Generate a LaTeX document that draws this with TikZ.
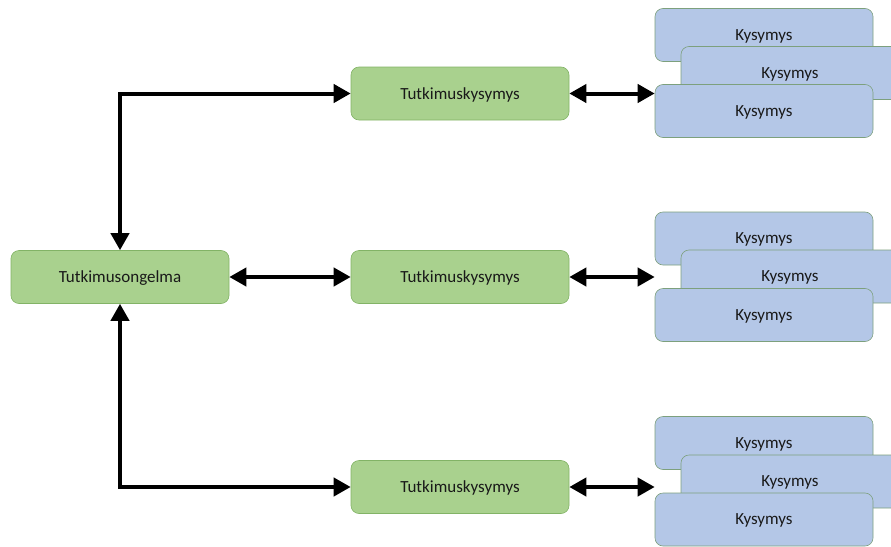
\documentclass[tikz,border=0pt]{standalone}
\usepackage{fontspec}
\setmainfont{Carlito}
\usetikzlibrary{arrows.meta}
\definecolor{gfill}{RGB}{169,209,142}
\definecolor{gdraw}{RGB}{130,179,102}
\definecolor{bfill}{RGB}{180,199,231}
\definecolor{bdraw}{RGB}{125,160,125}
\definecolor{txt}{RGB}{25,25,25}
\tikzset{
  gbox/.style={draw=gdraw, line width=0.6pt, fill=gfill, rounded corners=8pt, minimum width=218pt, minimum height=53pt, inner sep=0pt, text depth=0pt, font=\fontsize{17}{19}\selectfont, text=txt},
  bbox/.style={draw=bdraw, line width=0.6pt, fill=bfill, rounded corners=8pt, minimum width=218pt, minimum height=53pt, inner sep=0pt, text depth=0pt, font=\fontsize{17}{19}\selectfont, text=txt},
  conn/.style={line width=4pt, {Triangle[length=17pt,width=18pt]}-{Triangle[length=17pt,width=18pt]}}
}
\begin{document}
\begin{tikzpicture}[x=1pt,y=1pt]
\useasboundingbox (0,0) rectangle (891,-546);
\node[gbox] (ong) at (120,-277) {Tutkimusongelma};
\node[gbox] (q1) at (460,-93.5) {Tutkimuskysymys};
\node[gbox] (q2) at (460,-277) {Tutkimuskysymys};
\node[gbox] (q3) at (460,-487) {Tutkimuskysymys};
% stack 1
\node[bbox] (k11) at (764,-35) {Kysymys};
\node[bbox] (k12) at (790,-73) {Kysymys};
\node[bbox] (k13) at (764,-111) {Kysymys};
% stack 2
\node[bbox] (k21) at (764,-238.5) {Kysymys};
\node[bbox] (k22) at (790,-276.5) {Kysymys};
\node[bbox] (k23) at (764,-315) {Kysymys};
% stack 3
\node[bbox] (k31) at (764,-443) {Kysymys};
\node[bbox] (k32) at (790,-481.5) {Kysymys};
\node[bbox] (k33) at (764,-519.5) {Kysymys};
% connectors
\draw[conn] (ong.north) |- (q1.west);
\draw[conn] (ong.south) |- (q3.west);
\draw[conn] (ong.east) -- (q2.west);
\draw[conn] (q1.east) -- (q1.east -| k13.west);
\draw[conn] (q2.east) -- (q2.east -| k23.west);
\draw[conn] (q3.east) -- (q3.east -| k33.west);
\end{tikzpicture}
\end{document}
